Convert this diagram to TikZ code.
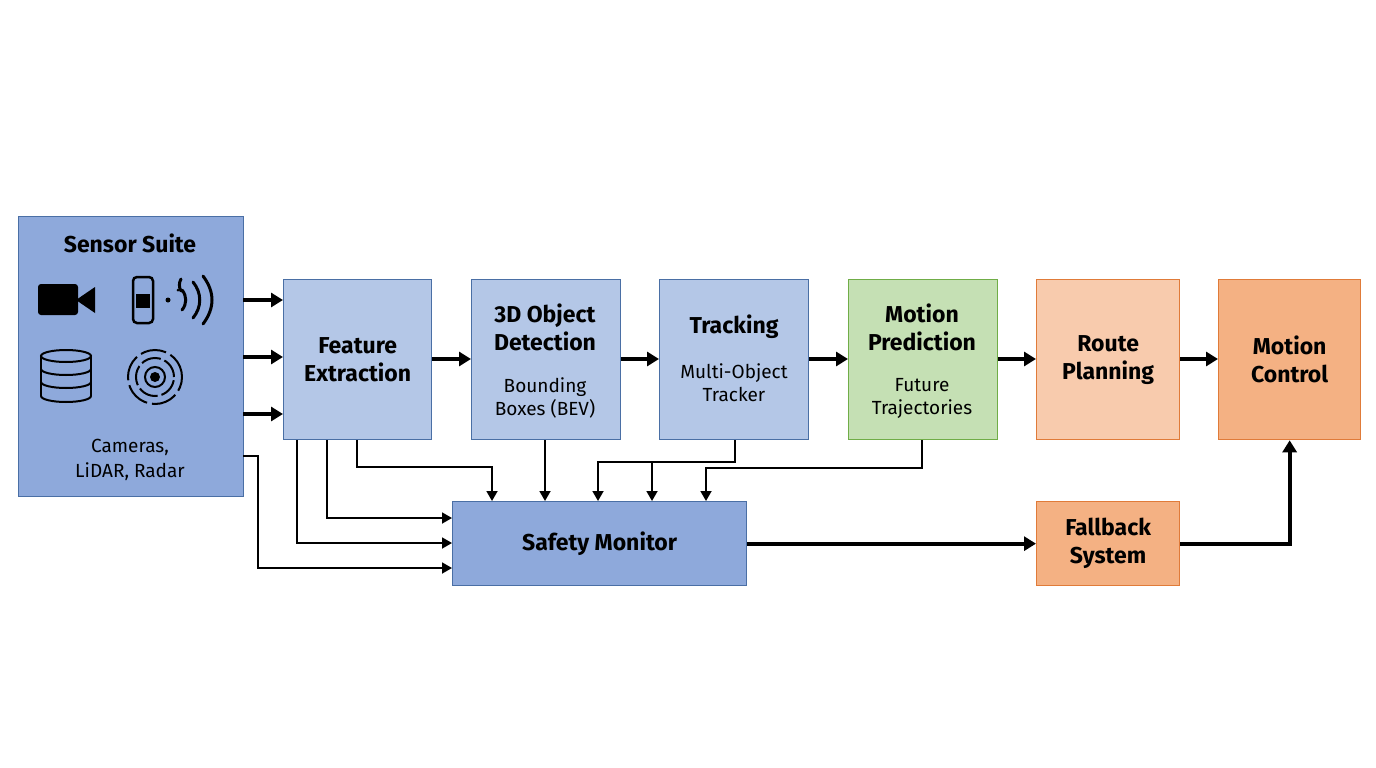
\documentclass[tikz,border=0pt]{standalone}
\usepackage{fontspec}
\setmainfont{Fira Sans}
\usetikzlibrary{arrows.meta}
\definecolor{dblue}{HTML}{8EA9DB}
\definecolor{lblue}{HTML}{B4C7E7}
\definecolor{bedge}{HTML}{4A6FA5}
\definecolor{lgreen}{HTML}{C5E0B4}
\definecolor{gedge}{HTML}{70AD47}
\definecolor{lorange}{HTML}{F8CBAD}
\definecolor{dorange}{HTML}{F4B183}
\definecolor{oedge}{HTML}{E07B39}
\begin{document}
\begin{tikzpicture}[x=1pt,y=-1pt,
  box/.style={draw,line width=1.3pt,inner sep=0pt,align=center,font=\fontsize{23}{28}\selectfont\bfseries,anchor=north west},
  sub/.style={font=\fontsize{19}{23}\selectfont},
  thick arr/.style={line width=4pt,-{Triangle[length=12pt,width=14pt]}},
  thin arr/.style={line width=1.8pt,-{Triangle[length=10pt,width=11pt]}},
  ico/.style={line width=3pt}]
\useasboundingbox (0,0) rectangle (1376,768);
% boxes
\node[box,fill=dblue,draw=bedge,minimum width=225pt,minimum height=280pt] (sens) at (18,216) {};
\node[font=\fontsize{23}{28}\selectfont\bfseries] at (130,243) {Sensor Suite};
\node[font=\fontsize{19}{25}\selectfont,align=center] at (130,460) {Cameras,\\LiDAR, Radar};
\node[box,fill=lblue,draw=bedge,minimum width=148pt,minimum height=160pt] (fe) at (283,279) {Feature\\Extraction};
\node[box,fill=lblue,draw=bedge,minimum width=149pt,minimum height=160pt] (det) at (471,279) {};
\node[font=\fontsize{23}{28}\selectfont\bfseries,align=center] at (545,327) {3D Object\\Detection};
\node[sub,align=center] at (545,398) {Bounding\\Boxes (BEV)};
\node[box,fill=lblue,draw=bedge,minimum width=149pt,minimum height=160pt] (trk) at (659,279) {};
\node[font=\fontsize{23}{28}\selectfont\bfseries] at (734,327) {Tracking};
\node[sub,align=center] at (734,383) {Multi-Object\\Tracker};
\node[box,fill=lgreen,draw=gedge,minimum width=149pt,minimum height=160pt] (mp) at (848,279) {};
\node[font=\fontsize{23}{28}\selectfont\bfseries,align=center] at (922,327) {Motion\\Prediction};
\node[sub,align=center] at (922,398) {Future\\Trajectories};
\node[box,fill=lorange,draw=oedge,minimum width=143pt,minimum height=160pt] (rp) at (1036,279) {Route\\Planning};
\node[box,fill=dorange,draw=oedge,minimum width=142pt,minimum height=160pt] (mc) at (1218,279) {Motion\\Control};
\node[box,fill=dblue,draw=bedge,minimum width=294pt,minimum height=84pt] (sm) at (452,501) {Safety Monitor};
\node[box,fill=dorange,draw=oedge,minimum width=143pt,minimum height=84pt] (fb) at (1036,501) {Fallback\\System};
% icons
\fill[rounded corners=3pt] (38,284) rectangle (78,315);
\fill (76,300) -- (95,287) -- (95,313) -- cycle;
\draw[line width=2.5pt,rounded corners=4pt] (133,277) rectangle (153,323);
\fill (136,294) rectangle (150,308);
\fill (168,300) circle (2.5pt);
\draw[line width=3pt,line cap=round] (181,291) arc (-30:30:-12);
\draw[line width=3pt,line cap=round] (178,290) ++(0,0) arc (150:210:0) ;
\draw[line width=3pt,line cap=round] (182,290) .. controls (187,296) and (187,304) .. (182,310);
\draw[line width=3pt,line cap=round] (193,282) .. controls (202,293) and (202,307) .. (193,318);
\draw[line width=3pt,line cap=round] (203,276) .. controls (215,292) and (215,308) .. (203,324);
\begin{scope}[line width=2pt]
\draw (66,356) ellipse (25pt and 6pt);
\draw (41,356) -- (41,396) (91,356) -- (91,396);
\draw (41,369) arc (180:360:25pt and 6pt);
\draw (41,382) arc (180:360:25pt and 6pt);
\draw (41,396) arc (180:360:25pt and 6pt);
\end{scope}
\fill (155,377) circle (5pt);
\draw[line width=2pt] (155,377) circle (10pt);
\draw[line width=2pt,dash pattern=on 20pt off 4pt] (155,377) circle (19pt);
\draw[line width=2pt,dash pattern=on 26pt off 5pt] (155,377) circle (27pt);
% coordinates
\coordinate (s1) at (243,300); \coordinate (s2) at (243,357); \coordinate (s3) at (243,414);
\draw[thick arr] (s1) -- (s1 -| fe.west);
\draw[thick arr] (s2) -- (s2 -| fe.west);
\draw[thick arr] (s3) -- (s3 -| fe.west);
\draw[thick arr] (fe.east |- 0,359) -- (det.west |- 0,359);
\draw[thick arr] (det.east |- 0,359) -- (trk.west |- 0,359);
\draw[thick arr] (trk.east |- 0,359) -- (mp.west |- 0,359);
\draw[thick arr] (mp.east |- 0,359) -- (rp.west |- 0,359);
\draw[thick arr] (rp.east |- 0,359) -- (mc.west |- 0,359);
\draw[thick arr] (sm.east) -- (fb.west);
\draw[thick arr] (fb.east) -| (mc.south);
% thin connectors
\draw[thin arr] (243,456) -- (258,456) |- (sm.west |- 0,568);
\draw[thin arr] (fe.south -| 297,0) |- (sm.west |- 0,543);
\draw[thin arr] (fe.south -| 327,0) |- (sm.west |- 0,518);
\draw[thin arr] (fe.south -| 357,0) |- (492,467) -- (sm.north -| 492,0);
\draw[thin arr] (det.south -| 545,0) -- (sm.north -| 545,0);
\draw[thin arr] (trk.south -| 735,0) |- (598,462) -- (sm.north -| 598,0);
\draw[thin arr] (652,462) -- (sm.north -| 652,0);
\draw[thin arr] (mp.south -| 922,0) |- (706,468) -- (sm.north -| 706,0);
\end{tikzpicture}
\end{document}
